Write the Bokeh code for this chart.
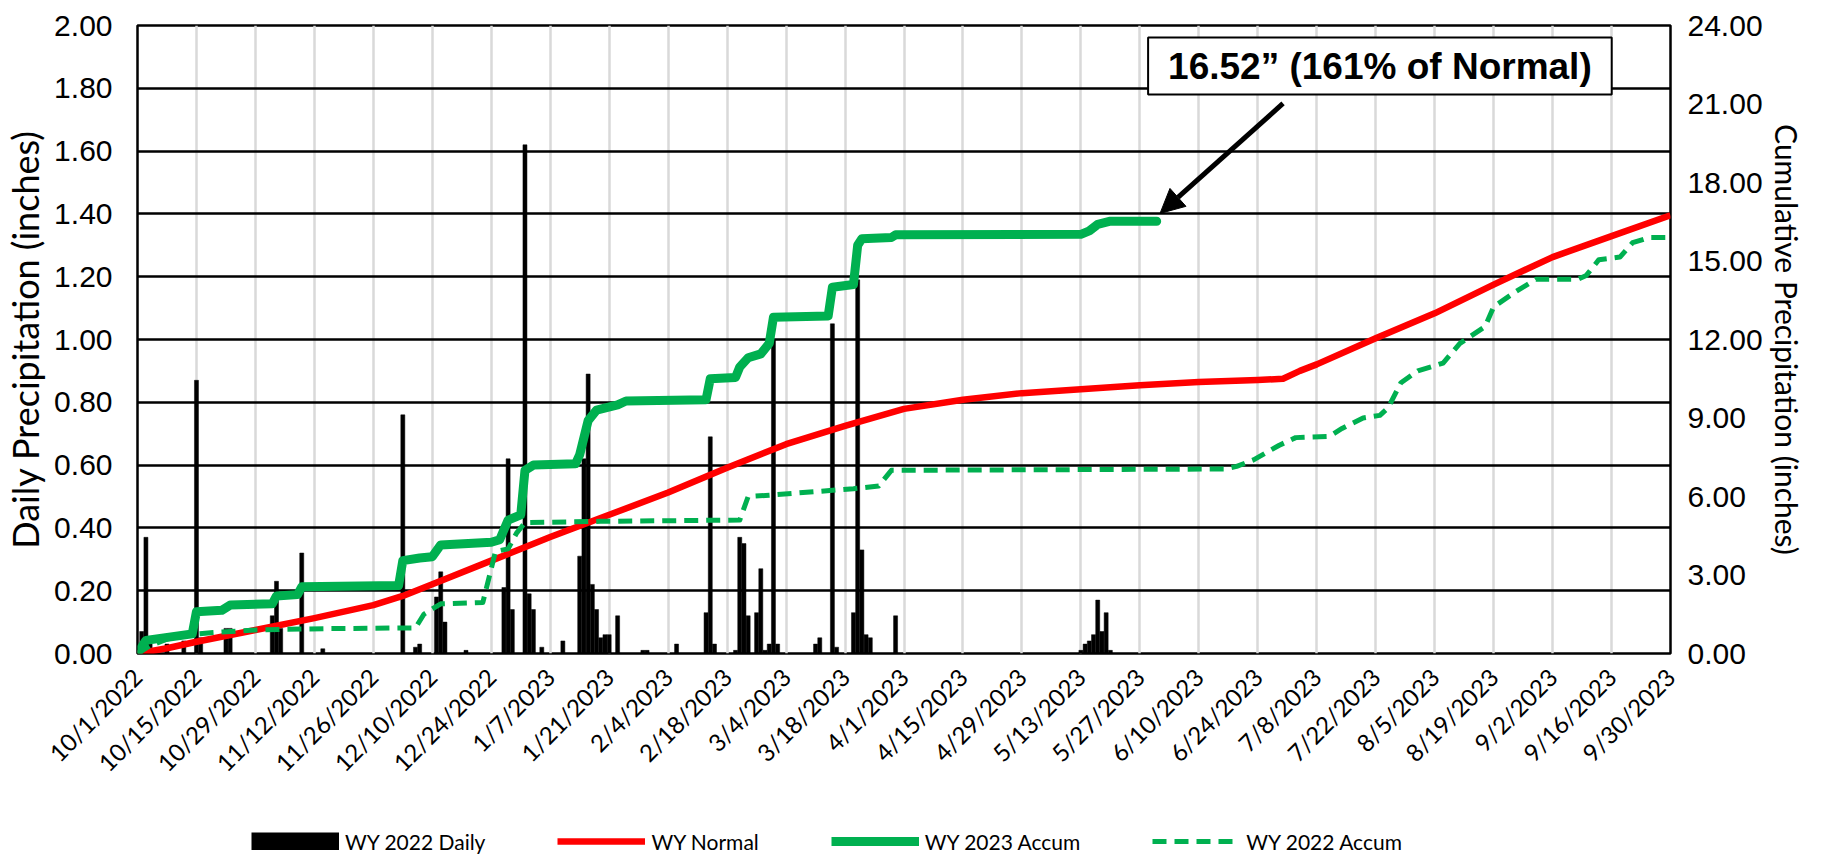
import math
from bokeh.plotting import figure
from bokeh.layouts import column
from bokeh.models import (Range1d, LinearAxis, FixedTicker, Legend, LegendItem,
                          Label, Arrow, NormalHead, NumeralTickFormatter)
from bokeh.embed import file_html
from bokeh.resources import INLINE

# ---------------- data (day 0 = 10/1/2022) ----------------
tick_days = [0, 14, 28, 42, 56, 70, 84, 98, 112, 126, 140, 154, 168, 182, 196,
             210, 224, 238, 252, 266, 280, 294, 308, 322, 336, 350, 364]
tick_labels = ["10/1/2022", "10/15/2022", "10/29/2022", "11/12/2022", "11/26/2022",
               "12/10/2022", "12/24/2022", "1/7/2023", "1/21/2023", "2/4/2023",
               "2/18/2023", "3/4/2023", "3/18/2023", "4/1/2023", "4/15/2023",
               "4/29/2023", "5/13/2023", "5/27/2023", "6/10/2023", "6/24/2023",
               "7/8/2023", "7/22/2023", "8/5/2023", "8/19/2023", "9/2/2023",
               "9/16/2023", "9/30/2023"]

daily_day = [1, 2, 3, 7, 11, 14, 15, 21, 22, 32, 33, 34, 39, 44, 63, 66, 67, 71, 72, 73,
             78, 87, 88, 89, 92, 93, 94, 96, 101, 105, 106, 107, 108, 109, 110, 111,
             112, 114, 120, 121, 128, 135, 136, 137, 142, 143, 144, 145, 147, 148, 149,
             150, 151, 152, 161, 162, 165, 166, 170, 171, 172, 173, 174, 180,
             224, 225, 226, 227, 228, 229, 230, 231]
daily_in = [0.07, 0.37, 0.03, 0.03, 0.04, 0.87, 0.05, 0.08, 0.08, 0.12, 0.23, 0.08, 0.32,
            0.015, 0.76, 0.02, 0.03, 0.18, 0.26, 0.10, 0.01, 0.21, 0.62, 0.14, 1.62,
            0.19, 0.14, 0.02, 0.04, 0.31, 0.62, 0.89, 0.22, 0.14, 0.05, 0.06, 0.06,
            0.12, 0.01, 0.01, 0.03, 0.13, 0.69, 0.03, 0.01, 0.37, 0.35, 0.12, 0.13,
            0.27, 0.01, 0.03, 1.00, 0.03, 0.03, 0.05, 1.05, 0.02, 0.13, 1.19, 0.33,
            0.06, 0.05, 0.12, 0.01, 0.03, 0.04, 0.06, 0.17, 0.07, 0.13, 0.01]

normal_day = [0, 7, 14, 28, 42, 56, 63, 70, 84, 98, 112, 126, 140, 154, 168, 182, 196,
              210, 224, 238, 252, 266, 272, 276, 280, 294, 308, 322, 336, 350, 364]
normal_in = [0.0, 0.2, 0.45, 0.9, 1.35, 1.85, 2.2, 2.65, 3.55, 4.45, 5.3, 6.15, 7.1,
             8.0, 8.7, 9.35, 9.7, 9.95, 10.1, 10.25, 10.38, 10.45, 10.5, 10.8, 11.05,
             12.05, 13.0, 14.1, 15.15, 15.95, 16.75]

wy23_day = [0, 2, 13, 14, 20, 22, 32, 33, 38, 39, 62, 63, 67, 70, 72, 84, 86, 88, 91,
            92, 94, 104, 105, 107, 109, 114, 116, 135, 136, 142, 143, 145, 148, 150,
            151, 164, 165, 170, 171, 172, 179, 180, 224, 226, 228, 231, 242]
wy23_in = [0.0, 0.5, 0.75, 1.6, 1.65, 1.85, 1.9, 2.2, 2.25, 2.55, 2.6, 3.55, 3.65, 3.7,
           4.15, 4.25, 4.35, 5.1, 5.3, 7.0, 7.2, 7.25, 7.6, 8.9, 9.3, 9.5, 9.65, 9.7,
           10.5, 10.55, 10.95, 11.3, 11.45, 11.85, 12.85, 12.9, 14.0, 14.1, 15.6,
           15.85, 15.9, 16.0, 16.02, 16.15, 16.4, 16.52, 16.52]

wy22_day = [0, 3, 7, 14, 18, 28, 45, 66, 68, 72, 82, 85, 88, 90, 92, 110, 143, 145, 150,
            170, 176, 179, 258, 261, 265, 271, 275, 283, 286, 291, 295, 297, 300, 304,
            310, 314, 320, 322, 327, 332, 342, 344, 347, 352, 355, 359, 364]
wy22_in = [0.0, 0.3, 0.55, 0.75, 0.8, 0.9, 0.95, 0.98, 1.5, 1.9, 1.95, 3.9, 4.0, 4.6,
           5.0, 5.05, 5.1, 6.0, 6.05, 6.3, 6.4, 7.0, 7.05, 7.15, 7.4, 7.95, 8.25, 8.3,
           8.6, 9.0, 9.1, 9.4, 10.35, 10.8, 11.1, 11.85, 12.5, 13.25, 13.8, 14.3, 14.3,
           14.45, 15.05, 15.15, 15.7, 15.9, 15.9]

left_ticks = [0.0, 0.2, 0.4, 0.6, 0.8, 1.0, 1.2, 1.4, 1.6, 1.8, 2.0]
right_ticks = [0, 3, 6, 9, 12, 15, 18, 21, 24]

note_text = "16.52\u201d (161% of Normal)"
series_names = ["WY 2022 Daily", "WY Normal", "WY 2023 Accum", "WY 2022 Accum"]

# ---------------- styles ----------------
BAR_COLOR = "black"
NORMAL_COLOR = "#ff0000"
GREEN = "#00b050"
AX_FONT = "Liberation Sans"
TITLE_FONT = "Lato"

W, H1, H2 = 1821, 808, 50

p = figure(width=W, height=H1, output_backend="svg", toolbar_location=None,
           x_range=Range1d(0, 364), y_range=Range1d(0, 2.0),
           min_border_left=130, min_border_right=151, min_border_top=25,
           min_border_bottom=155)
p.extra_y_ranges = {"cum": Range1d(0, 24)}
p.outline_line_color = "black"
p.outline_line_width = 2.5

p.yaxis.ticker = FixedTicker(ticks=left_ticks)
p.yaxis.formatter = NumeralTickFormatter(format="0.00")
p.yaxis.axis_label = "Daily Precipitation (inches)"

rax = LinearAxis(y_range_name="cum", ticker=FixedTicker(ticks=right_ticks),
                 formatter=NumeralTickFormatter(format="0.00"),
                 axis_label="Cumulative Precipitation (inches)")
p.add_layout(rax, "right")

for ax in (p.yaxis[0], rax, p.xaxis[0]):
    ax.major_tick_line_color = None
    ax.minor_tick_line_color = None
    ax.major_tick_out = 0
    ax.major_tick_in = 0
    ax.minor_tick_out = 0
    ax.minor_tick_in = 0
    ax.axis_line_color = None

for ax in (p.yaxis[0], rax):
    ax.major_label_text_font = AX_FONT
    ax.major_label_text_font_size = "30px"
    ax.major_label_text_color = "black"
    ax.axis_label_text_font = TITLE_FONT
    ax.axis_label_text_font_style = "normal"
    ax.axis_label_text_color = "black"
p.yaxis[0].axis_label_text_font_size = "36px"
rax.axis_label_text_font_size = "30px"
p.yaxis[0].major_label_standoff = 25
p.yaxis[0].axis_label_standoff = 4
rax.major_label_standoff = 17
rax.axis_label_standoff = 3

p.xaxis.ticker = FixedTicker(ticks=tick_days)
p.xaxis.major_label_overrides = {d: s for d, s in zip(tick_days, tick_labels)}
p.xaxis.major_label_orientation = math.pi / 4
p.xaxis.major_label_text_font = TITLE_FONT
p.xaxis.major_label_text_font_size = "24px"
p.xaxis.major_label_text_color = "black"
p.xaxis.major_label_standoff = 19

p.xgrid.ticker = FixedTicker(ticks=tick_days)
p.xgrid.grid_line_color = "#d9d9d9"
p.xgrid.grid_line_width = 2.5
p.ygrid.ticker = FixedTicker(ticks=left_ticks)
p.ygrid.grid_line_color = "black"
p.ygrid.grid_line_width = 2.5

bars = p.vbar(x=daily_day, top=daily_in, width=0.95, bottom=0,
              fill_color=BAR_COLOR, line_color=BAR_COLOR, line_width=0.5)
red = p.line(normal_day, normal_in, y_range_name="cum", line_color=NORMAL_COLOR,
             line_width=6.5, line_join="round")
g23 = p.line(wy23_day, wy23_in, y_range_name="cum", line_color=GREEN,
             line_width=9, line_join="round", line_cap="round")
g22 = p.line(wy22_day, wy22_in, y_range_name="cum", line_color=GREEN,
             line_width=5, line_dash="14 8", line_join="round")

end_day, end_val = wy23_day[-1], wy23_in[-1]
p.add_layout(Arrow(end=NormalHead(size=24, fill_color="black", line_color="black"),
                   x_start=end_day + 30, y_start=end_val + 4.5,
                   x_end=end_day + 0.8, y_end=end_val + 0.3,
                   y_range_name="cum", line_width=5, line_color="black"))
p.add_layout(Label(x=end_day + 53, y=22.45, y_range_name="cum", text=note_text,
                   text_align="center", text_baseline="middle",
                   text_font=AX_FONT, text_font_style="bold", text_font_size="37px",
                   text_color="black", background_fill_color="white",
                   border_line_color="black", border_line_width=2, padding=(20, 8)))

# ---------------- legend strip (separate figure below) ----------------
q = figure(width=W, height=H2, output_backend="svg", toolbar_location=None,
           x_range=Range1d(0, 1), y_range=Range1d(0, 1), min_border=0,
           x_axis_location=None, y_axis_location=None)
q.grid.visible = False
q.outline_line_color = None
# legend proxies (single segment each, outside the visible range)
lb = q.line([-6, -5], [0, 0], line_color=BAR_COLOR, line_width=18, line_cap="butt")
lr = q.line([-6, -5], [0, 0], line_color=NORMAL_COLOR, line_width=6.5)
lg = q.line([-6, -5], [0, 0], line_color=GREEN, line_width=9)
ld = q.line([-6, -5], [0, 0], line_color=GREEN, line_width=5, line_dash="14 8")
legend = Legend(items=[LegendItem(label=n, renderers=[r])
                       for n, r in zip(series_names, [lb, lr, lg, ld])],
                orientation="horizontal", location=(114, 2),
                glyph_width=88, glyph_height=18, label_height=30,
                label_text_font=TITLE_FONT, label_text_font_size="21px",
                label_text_color="black", spacing=72, label_standoff=6,
                padding=0, margin=0, border_line_color=None,
                background_fill_alpha=0)
q.add_layout(legend)

layout = column(p, q, spacing=0)
open("out.html", "w").write(file_html(layout, INLINE))
